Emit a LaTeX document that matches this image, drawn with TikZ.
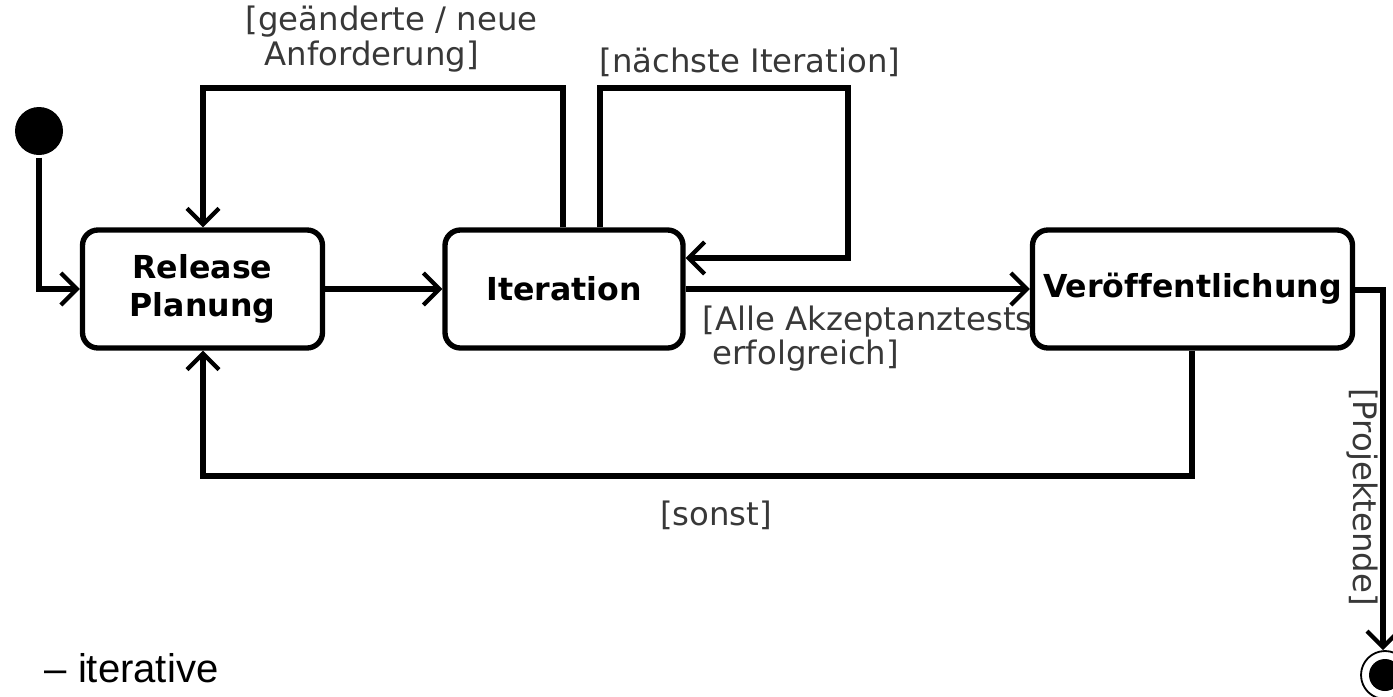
\documentclass[tikz,border=0pt]{standalone}
\usepackage{fontspec}
\setmainfont{DejaVu Sans}[Ligatures=NoCommon]
\newfontfamily\helv{Liberation Sans}
\usetikzlibrary{arrows.meta}
\begin{document}
\begin{tikzpicture}[x=0.25mm,y=-0.25mm,
  line width=3.8pt,
  state/.style={draw, rounded corners=11pt, minimum height=29.5mm,
     inner sep=0pt, font=\fontsize{22.5}{27.5}\selectfont\bfseries, align=center},
  flow/.style={-{Straight Barb[length=4mm,width=8mm,line width=3pt]}, line join=miter},
  guard/.style={font=\fontsize{23}{25}\selectfont, text=black!78, inner sep=0pt, align=left}]
  \useasboundingbox (0,0) rectangle (1393,696);
  % initial and final states
  \node[circle, fill=black, minimum size=12mm, inner sep=0pt] (init) at (39,131) {};
  \node[circle, draw, line width=1.3pt, fill=white, minimum size=12mm, inner sep=0pt] (fin) at (1385,675) {};
  \fill (fin.center) circle (16);
  % states
  \node[state, minimum width=60mm] (rp) at (202.5,289) {Release\\Planung};
  \node[state, minimum width=59.5mm] (it) at (564,289) {Iteration};
  \node[state, minimum width=80mm] (vo) at (1192.5,289) {Veröffentlichung};
  % transitions
  \draw[flow] (init) |- (rp.west);
  \draw[flow] (rp.east) -- (it.west);
  \draw[flow] (it.east) -- (vo.west);
  \draw[flow] (it.north -| 563,0) -- (563,88) -- (203,88) -- (rp.north -| 203,0);
  \draw[flow] (it.north -| 600,0) -- (600,88) -- (848,88) -- (848,258) -- (it.east |- 0,258);
  \draw[flow] (vo.south -| 1192,0) -- (1192,476) -- (203,476) -- (rp.south -| 203,0);
  \draw[flow] (vo.east |- 0,290) -- (1383,290) -- (fin.north -| 1383,0);
  % guards
  \node[guard, anchor=west] (g1) at (243,22) {[geänderte / neue};
  \node[guard, anchor=west] (g2) at (262,57) {Anforderung]};
  \node[guard, anchor=west] (g3) at (597,62) {[nächste Iteration]};
  \node[guard, anchor=west] (g4) at (700,322) {[Alle Akzeptanztests};
  \node[guard, anchor=west] (g5) at (710,356) {erfolgreich]};
  \node[guard, anchor=center] (g6) at (716,515) {[sonst]};
  \node[guard, anchor=center, rotate=-90] (g7) at (1362,497) {[Projektende]};
  % caption
  \node[anchor=west, inner sep=0pt, font=\helv\fontsize{28.5}{32}\selectfont] (cap) at (42,668) {– iterative};
\end{tikzpicture}
\end{document}
